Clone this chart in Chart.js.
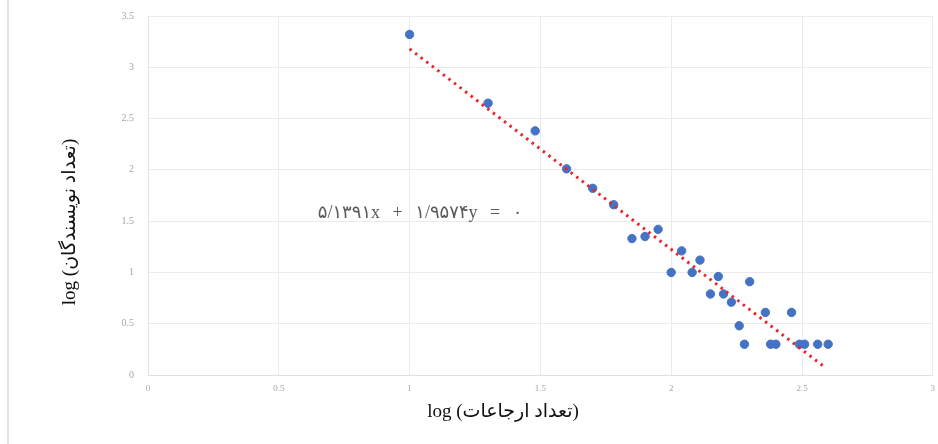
<!DOCTYPE html>
<html>
<head>
<meta charset="utf-8">
<script src="https://cdn.jsdelivr.net/npm/chart.js@4.4.1/dist/chart.umd.min.js"></script>
<style>
  html, body { margin: 0; padding: 0; background: #fff; }
  #wrap { position: relative; width: 938px; height: 444px; }
  #frame { position: absolute; left: 7px; top: 0; width: 2px; height: 444px; background: #e3e3e3; }
</style>
</head>
<body>
<div id="wrap">
  <div id="frame"></div>
  <canvas id="scatterChart" width="938" height="444"></canvas>
</div>
<script>
// log (number of citations) vs log (number of authors)
const citationsLog = [1.00, 1.30, 1.48, 1.60, 1.70, 1.78, 1.85, 1.90, 1.95, 2.00, 2.04, 2.08,
    2.11, 2.15, 2.18, 2.20, 2.23, 2.26, 2.28, 2.30, 2.36, 2.38, 2.40, 2.46, 2.49, 2.51, 2.56, 2.60];
const authorsLog = [3.32, 2.65, 2.38, 2.01, 1.82, 1.66, 1.33, 1.35, 1.42, 1.00, 1.21, 1.00,
    1.12, 0.79, 0.96, 0.79, 0.71, 0.48, 0.30, 0.91, 0.61, 0.30, 0.30, 0.61, 0.30, 0.30, 0.30, 0.30];

// trend line ends
const trendX = [1.00, 2.58];
const trendY = [3.18, 0.09];

const xTicks = [0, 0.5, 1, 1.5, 2, 2.5, 3];
const yTicks = [0, 0.5, 1, 1.5, 2, 2.5, 3, 3.5];

const xTitle = 'log (تعداد ارجاعات)';
const yTitle = 'log (تعداد نویسندگان)';
const equationText = '۵/۱۳۹۱x + ۱/۹۵۷۴y = ۰';
const equationAt = { x: 1.04, y: 1.58 };

const serif = "'Liberation Serif', 'DejaVu Serif', 'DejaVu Sans', serif";

// draws the regression equation and the two axis titles
const textPlugin = {
    id: 'texts',
    afterDatasetsDraw(chart) {
        const { ctx, scales } = chart;
        ctx.save();
        ctx.font = '18px ' + serif;
        ctx.fillStyle = '#595959';
        ctx.textAlign = 'center';
        ctx.textBaseline = 'middle';
        ctx.letterSpacing = '4px';
        ctx.fillText(equationText, scales.x.getPixelForValue(equationAt.x), scales.y.getPixelForValue(equationAt.y));
        ctx.restore();

        ctx.save();
        ctx.font = '19px ' + serif;
        ctx.fillStyle = '#111';
        ctx.textAlign = 'center';
        ctx.textBaseline = 'middle';
        ctx.fillText(xTitle, 503, 412);
        ctx.translate(70, 222);
        ctx.rotate(-Math.PI / 2);
        ctx.fillText(yTitle, 0, 0);
        ctx.restore();
    }
};

const points = citationsLog.map((x, i) => ({ x: x, y: authorsLog[i] }));
const trend = trendX.map((x, i) => ({ x: x, y: trendY[i] }));

const config = {
    type: 'scatter',
    data: {
        datasets: [{
            label: 'data',
            data: points,
            backgroundColor: '#4472C4',
            borderColor: '#4472C4',
            pointRadius: 4.2,
            pointHoverRadius: 4.2,
            order: 2
        }, {
            label: 'trend',
            type: 'line',
            data: trend,
            borderColor: '#E8262B',
            borderWidth: 3,
            borderDash: [2.5, 4.5],
            pointRadius: 0,
            fill: false,
            order: 1
        }]
    },
    options: {
        responsive: false,
        animation: false,
        layout: { padding: { left: 0, right: 5, top: 16, bottom: 0 } },
        plugins: {
            legend: { display: false },
            tooltip: { enabled: false }
        },
        scales: {
            x: {
                type: 'linear',
                min: 0,
                max: 3,
                afterBuildTicks: (axis) => { axis.ticks = xTicks.map(v => ({ value: v })); },
                afterFit: (axis) => {
                    axis.height = 69;
                    axis.paddingLeft = 0;
                    axis.paddingRight = 0;
                },
                grid: { color: '#ebebeb', drawTicks: false },
                border: { color: '#e0e0e0' },
                ticks: { color: '#a6a6a6', font: { family: serif, size: 9 }, padding: 8, callback: (v) => String(v) }
            },
            y: {
                type: 'linear',
                min: 0,
                max: 3.5,
                afterBuildTicks: (axis) => { axis.ticks = yTicks.map(v => ({ value: v })); },
                afterFit: (axis) => {
                    axis.width = 148;
                    axis.paddingTop = 0;
                    axis.paddingBottom = 0;
                },
                grid: { color: '#ebebeb', drawTicks: false },
                border: { color: '#e0e0e0' },
                ticks: { color: '#a6a6a6', font: { family: serif, size: 10 }, padding: 14, callback: (v) => String(v) }
            }
        }
    },
    plugins: [textPlugin]
};

window.myScatterChart = new Chart(document.getElementById('scatterChart'), config);
</script>
</body>
</html>
